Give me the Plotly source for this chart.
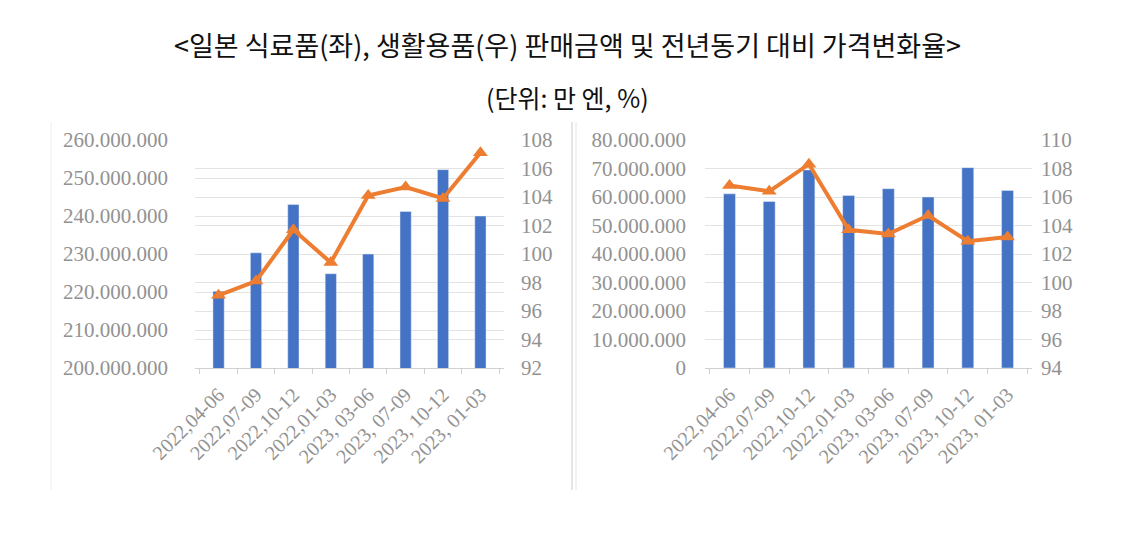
import plotly.graph_objects as go

categories = ["2022,04-06", "2022,07-09", "2022,10-12", "2022,01-03",
              "2023, 03-06", "2023, 07-09", "2023, 10-12", "2023, 01-03"]
food_sales = [220200000, 230300000, 243000000, 224800000,
              230000000, 241200000, 252200000, 240000000]
food_price = [97.1, 98.1, 101.7, 99.4, 104.1, 104.7, 103.9, 107.1]
daily_sales = [61100000, 58400000, 69500000, 60500000,
               62900000, 60000000, 70300000, 62300000]
daily_price = [106.8, 106.4, 108.3, 103.7, 103.4, 104.7, 102.9, 103.2]

title_text = "<일본 식료품(좌), 생활용품(우) 판매금액 및 전년동기 대비 가격변화율>"
subtitle_text = "(단위: 만 엔, %)"

W, H = 1134, 549
BAR = "#4472C4"
LINE = "#ED7D31"
TICK = "#929292"
GRID = "#e3e3e3"
SERIF = "Liberation Serif, Times New Roman, serif"

def px_x(a, b):
    return [a / W, b / W]

def px_y(top, bottom):
    return [(H - bottom) / H, (H - top) / H]

fig = go.Figure()
fig.add_trace(go.Bar(x=categories, y=food_sales, marker_color=BAR, width=0.3,
                     xaxis="x", yaxis="y", showlegend=False))
fig.add_trace(go.Scatter(x=categories, y=food_price, mode="lines+markers",
                         line=dict(color=LINE, width=4),
                         marker=dict(symbol="triangle-up", size=13, color=LINE),
                         xaxis="x", yaxis="y2", showlegend=False))
fig.add_trace(go.Bar(x=categories, y=daily_sales, marker_color=BAR, width=0.3,
                     xaxis="x2", yaxis="y3", showlegend=False))
fig.add_trace(go.Scatter(x=categories, y=daily_price, mode="lines+markers",
                         line=dict(color=LINE, width=4),
                         marker=dict(symbol="triangle-up", size=13, color=LINE),
                         xaxis="x2", yaxis="y4", showlegend=False))

ydom = px_y(140, 368)
xfont = dict(family=SERIF, size=20, color=TICK)
yfont = dict(family=SERIF, size=21, color=TICK)

xcommon = dict(type="category", tickangle=-45, tickfont=xfont, showgrid=False,
               showline=True, linecolor="#d0d0d0", linewidth=1,
               ticks="outside", tickson="boundaries", ticklen=5, tickcolor="#d0d0d0",
               zeroline=False, fixedrange=True, ticklabelstandoff=6,
               automargin=False)

fig.update_layout(
    width=W, height=H,
    margin=dict(l=0, r=0, t=0, b=0, pad=0, autoexpand=False),
    paper_bgcolor="white", plot_bgcolor="white",
    separators=",.",
    xaxis=dict(domain=px_x(195, 504), anchor="y", **xcommon),
    yaxis=dict(domain=ydom, range=[200000000, 260000000], dtick=10000000,
               tickformat=",d", tickfont=yfont, gridcolor=GRID, zeroline=False,
               ticklabelstandoff=26, showline=False, automargin=False),
    yaxis2=dict(domain=ydom, overlaying="y", side="right", anchor="x",
                range=[92, 108], dtick=2, tickfont=yfont, gridcolor=GRID,
                showgrid=True, zeroline=False, ticklabelstandoff=16, automargin=False),
    xaxis2=dict(domain=px_x(705, 1032), anchor="y3", **xcommon),
    yaxis3=dict(domain=ydom, anchor="x2", range=[0, 80000000], dtick=10000000,
                tickformat=",d", tickfont=yfont, gridcolor=GRID, zeroline=False,
                ticklabelstandoff=18, automargin=False),
    yaxis4=dict(domain=ydom, overlaying="y3", side="right", anchor="x2",
                range=[94, 110], dtick=2, tickfont=yfont, gridcolor=GRID,
                showgrid=True, zeroline=False, ticklabelstandoff=8, automargin=False),
    annotations=[
        dict(text=title_text, x=0.5, y=1 - 45 / H, xref="paper", yref="paper",
             showarrow=False, xanchor="center", yanchor="middle",
             font=dict(family="Noto Sans CJK KR", size=27, color="#111111")),
        dict(text=subtitle_text, x=0.5, y=1 - 97 / H, xref="paper", yref="paper",
             showarrow=False, xanchor="center", yanchor="middle",
             font=dict(family="Noto Sans CJK KR", size=25, color="#111111")),
    ],
    shapes=[
        dict(type="line", xref="paper", yref="paper", x0=51 / W, x1=51 / W,
             y0=(H - 490) / H, y1=(H - 122) / H, line=dict(color="#eeeeee", width=1)),
        dict(type="line", xref="paper", yref="paper", x0=572 / W, x1=572 / W,
             y0=(H - 490) / H, y1=(H - 122) / H, line=dict(color="#dddddd", width=1.5)),
        dict(type="line", xref="paper", yref="paper", x0=576 / W, x1=576 / W,
             y0=(H - 490) / H, y1=(H - 122) / H, line=dict(color="#e6e6e6", width=1)),
    ],
)

fig.write_html("out.html")
